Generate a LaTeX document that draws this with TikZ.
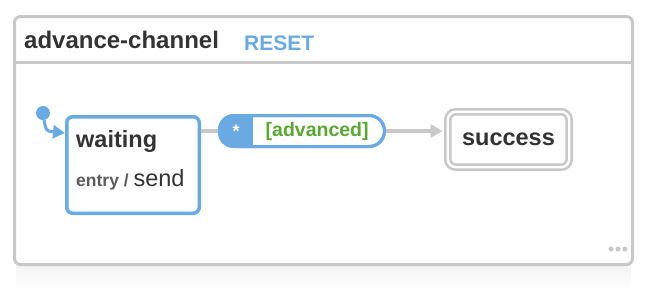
\documentclass[tikz,border=0pt]{standalone}
\usepackage{fontspec}
\setmainfont{Liberation Sans}
\usetikzlibrary{arrows.meta,positioning}

\definecolor{stateblue}{RGB}{106,170,226}
\definecolor{framegray}{RGB}{200,200,200}
\definecolor{guardgreen}{RGB}{88,168,50}
\definecolor{ink}{RGB}{51,51,51}

\begin{document}
\begin{tikzpicture}[x=1pt,y=-1pt,
  frame/.style={draw=framegray, line width=3pt, rounded corners=6pt},
  state/.style={draw=stateblue, line width=3.5pt, fill=white, rounded corners=6pt,
    minimum width=132.5pt, minimum height=96.5pt, inner sep=0pt},
  final/.style={draw=framegray, line width=2.6pt, double=white, double distance=2.4pt,
    fill=white, rounded corners=8pt, minimum width=121.4pt, minimum height=55.4pt,
    font=\fontsize{23.5}{26}\selectfont\bfseries, text=ink},
  pill/.style={draw=stateblue, line width=3pt, rounded corners=15.5pt,
    minimum width=165pt, minimum height=31pt, inner sep=0pt},
  wire/.style={draw=framegray, line width=3.5pt},
  tip/.style={-{Triangle[length=12pt,width=13pt]}}]

  \useasboundingbox (0,0) rectangle (660,290);

  % shadow and machine frame
  \shade[top color=black!5, bottom color=white] (16,262) rectangle (631,290);
  \draw[frame, fill=white] (14.5,16.5) rectangle (632.5,264.5);
  \draw[framegray, line width=3pt] (14.5,62.5) -- (632.5,62.5);

  \node[anchor=base west, inner sep=0pt, text=ink,
    font=\fontsize{24}{27}\selectfont\bfseries] (title) at (24,48.5) {advance-channel};
  \node[anchor=base west, inner sep=0pt, text=stateblue,
    font=\fontsize{21}{24}\selectfont\bfseries] (reset) at (244,50) {RESET};

  % states
  \node[state] (waiting) at (133,165) {};
  \node[anchor=base west, inner sep=0pt, text=ink,
    font=\fontsize{23.5}{26}\selectfont\bfseries]
    (wname) at ([shift={(11pt,-32pt)}]waiting.north west) {waiting};
  \node[anchor=base west, inner sep=0pt, text=ink]
    (wentry) at ([shift={(11pt,-71pt)}]waiting.north west)
    {\fontsize{17.5}{20}\selectfont\bfseries\color{ink!80}entry / \fontsize{23.5}{26}\mdseries\color{ink}send};

  \node[final] (success) at (508.5,139.5) {success};

  % initial pseudo state
  \node[circle, fill=stateblue, inner sep=0pt, minimum size=14pt] (init) at (43,113) {};
  \draw[stateblue, line width=3pt, tip]
    (init) .. controls (46,131) .. ([yshift=-18pt]waiting.north west);

  % event pill
  \node[pill] (event) at (302,131) {};
  \begin{scope}
    \clip[rounded corners=15.5pt] (event.south west) rectangle (event.north east);
    \fill[stateblue] (event.south west) rectangle (253,100);
  \end{scope}
  \node[pill] at (event) {};
  \node[text=white, font=\fontsize{18}{20}\selectfont\bfseries] (star) at (236,131) {*};
  \node[anchor=west, inner sep=0pt, text=guardgreen,
    font=\fontsize{19.5}{22}\selectfont\bfseries] (guard) at (265.5,131) {[advanced]};

  % transitions
  \draw[wire] (waiting.east |- event.west) -- (event.west);
  \draw[wire, tip, shorten >=4pt] (event.east) -- (event.east -| success.west);

  % corner dots
  \foreach \dx in {611,618,625}
    \fill[framegray] (\dx,249) circle (2.5);
\end{tikzpicture}
\end{document}
